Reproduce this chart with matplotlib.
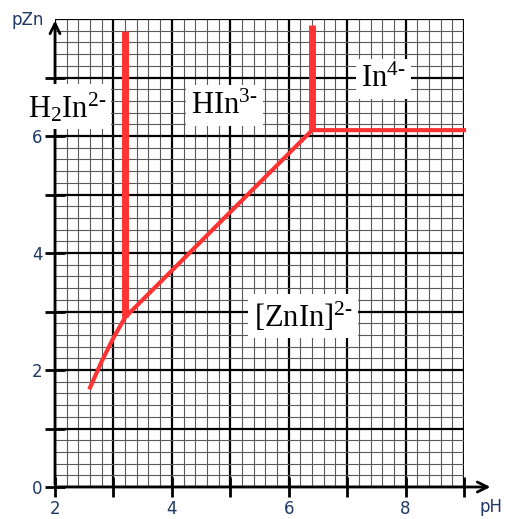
import numpy as np
from matplotlib import pyplot as plt

plt.rcParams['mathtext.fontset'] = 'custom'
plt.rcParams['mathtext.rm'] = 'Liberation Serif'
plt.rcParams['mathtext.it'] = 'Liberation Serif:italic'

frontera_h2in_x = [3.2, 3.2]
frontera_h2in_y = [2.9, 7.8]
frontera_hin_x = [6.4, 6.4]
frontera_hin_y = [6.1, 7.9]
curva_zn_x = [2.6, 2.8, 3.0, 3.2, 6.4, 9.0]
curva_zn_y = [1.7, 2.15, 2.55, 2.9, 6.1, 6.1]

especies = [r'$\mathrm{H_2In^{2\text{-}}}$', r'$\mathrm{HIn^{3\text{-}}}$',
            r'$\mathrm{In^{4\text{-}}}$', r'$\mathrm{[ZnIn]^{2\text{-}}}$']
especies_x = [2.2, 4.9, 7.62, 6.25]
especies_y = [6.5, 6.52, 6.98, 2.92]

xticks = [2, 3, 4, 5, 6, 7, 8, 9]
xlabels = ['2', '', '4', '', '6', '', '8', '']
yticks = [0, 1, 2, 3, 4, 5, 6, 7]
ylabels = ['0', '', '2', '', '4', '', '6', '']

azul = '#1f3864'
rojo = '#ff3333'

fig = plt.figure(figsize=(5.05, 5.19), dpi=100)
ax = fig.add_axes([55/505, 32/519, 409/505, 468/519])
ax.set_xlim(2, 9)
ax.set_ylim(0, 8)

# papel milimetrado
for v in np.arange(2, 9.001, 0.2):
    mayor = abs(v - round(v)) < 1e-6
    ax.axvline(v, color='black' if mayor else '#5a5a5a',
               lw=1.6 if mayor else 0.8, zorder=1)
for v in np.arange(0, 8.001, 0.2):
    mayor = abs(v - round(v)) < 1e-6
    ax.axhline(v, color='black' if mayor else '#5a5a5a',
               lw=1.6 if mayor else 0.8, zorder=1)

for s in ax.spines.values():
    s.set_visible(False)

# ejes con flecha
ax.annotate('', xy=(9.5, 0), xytext=(2, 0), annotation_clip=False,
            arrowprops=dict(arrowstyle='->', lw=2, color='black', mutation_scale=18))
ax.annotate('', xy=(2, 8.02), xytext=(2, 0), annotation_clip=False,
            arrowprops=dict(arrowstyle='->', lw=2, color='black', mutation_scale=18))

ax.set_xticks(xticks)
ax.set_xticklabels(xlabels)
ax.set_yticks(yticks)
ax.set_yticklabels(ylabels)
ax.tick_params(direction='inout', length=14, width=2, colors='black',
               labelcolor=azul, labelsize=12, pad=2)

ax.text(9.47, -0.34, 'pH', color=azul, fontsize=12, ha='center', va='center',
        clip_on=False)
ax.text(1.53, 7.98, 'pZn', color=azul, fontsize=12, ha='center', va='center',
        clip_on=False)

# fronteras
ax.plot(frontera_h2in_x, frontera_h2in_y, color=rojo, lw=5, zorder=3,
        solid_capstyle='butt')
ax.plot(frontera_hin_x, frontera_hin_y, color=rojo, lw=5, zorder=3,
        solid_capstyle='butt')
ax.plot(curva_zn_x, curva_zn_y, color=rojo, lw=3, zorder=3, clip_on=False)

for t, x, y in zip(especies, especies_x, especies_y):
    ax.text(x, y, t, fontsize=22, ha='center', va='center', zorder=4,
            bbox=dict(facecolor='white', edgecolor='none', pad=4))

fig.savefig('out.png', dpi=100)
